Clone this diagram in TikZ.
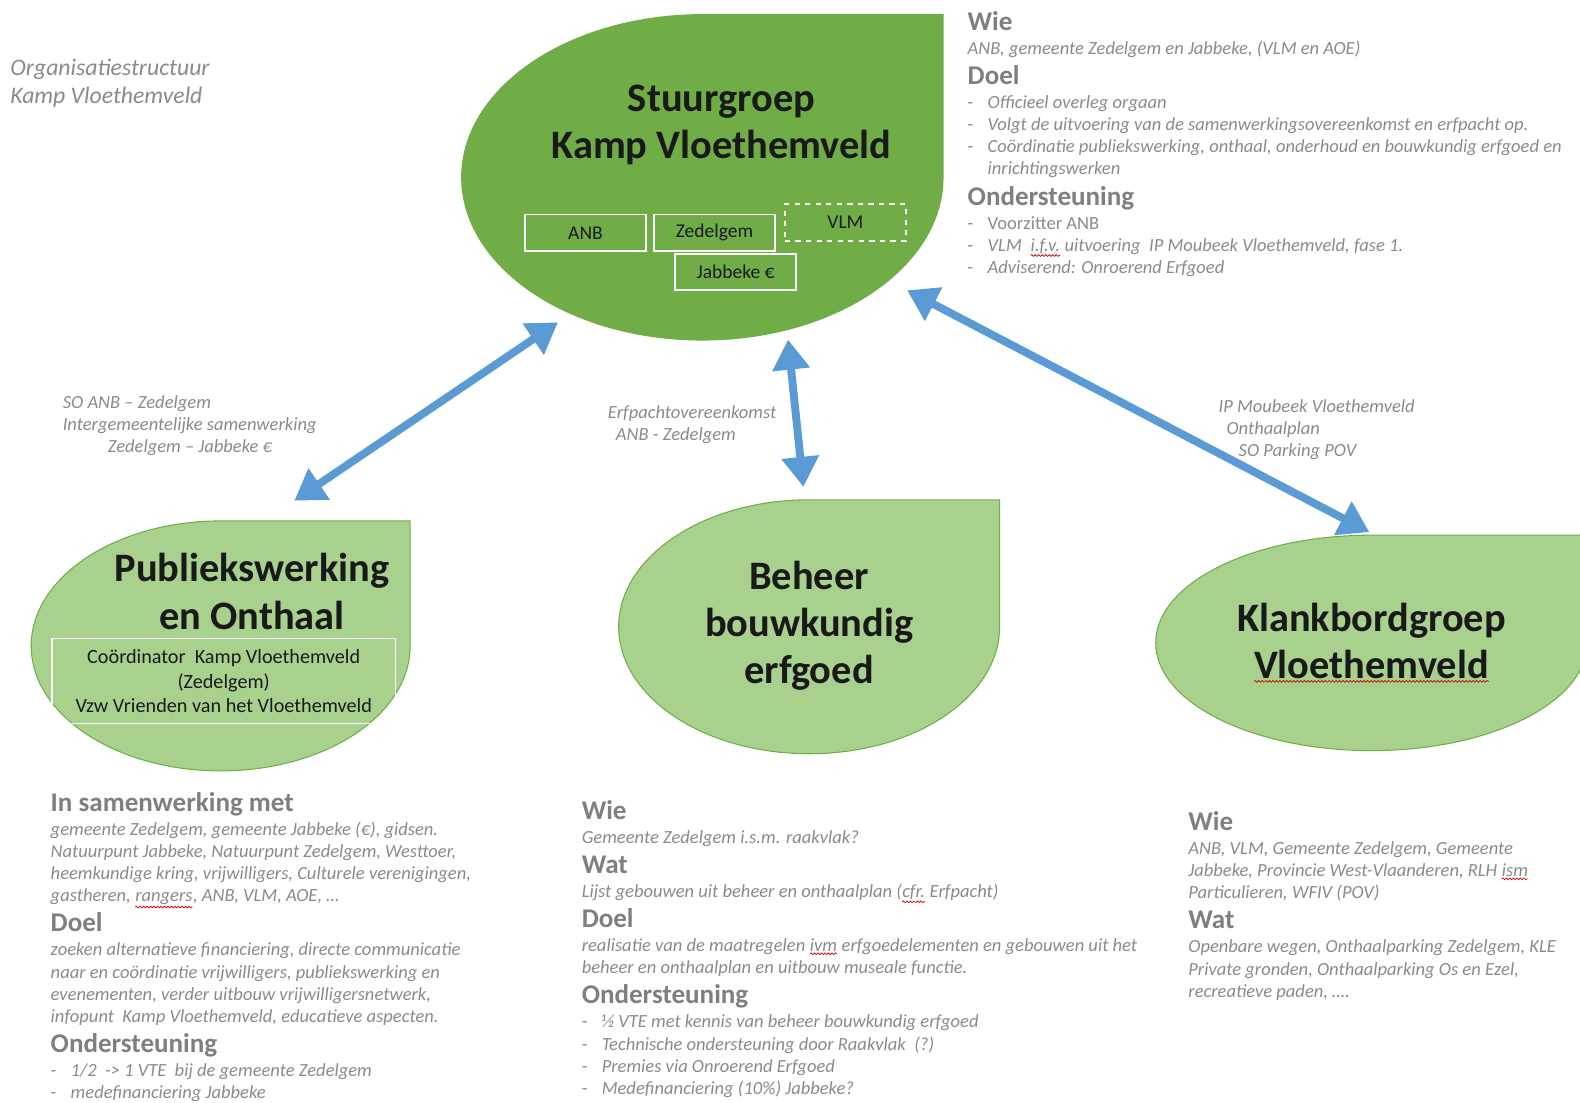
\documentclass[tikz,border=0pt]{standalone}
\usepackage{fontspec}
\setmainfont{Carlito}
\usepackage{tikz}
\usetikzlibrary{arrows.meta,shapes.geometric,decorations.pathmorphing}
\definecolor{leafdark}{HTML}{70AD47}
\definecolor{leaflight}{HTML}{A9D18E}
\definecolor{pijl}{HTML}{5B9BD5}
\definecolor{grijs}{HTML}{7F7F7F}
\definecolor{grijstekst}{HTML}{8A8A8A}
\newcommand{\kop}[1]{{\fontsize{15.4}{18}\selectfont\bfseries\upshape\color{grijs}#1}}
\newcommand{\streep}{\makebox[0.4cm][l]{\upshape -}}
\newcommand{\bloktekst}{\fontsize{10.55}{12.6}\selectfont\itshape\lineskiplimit=-20pt\relax}
\newcommand{\fout}[1]{\tikz[baseline=(w.base)]{\node[inner sep=0pt,outer sep=0pt] (w) {#1};
  \draw[foutlijn] ([yshift=-1.2pt]w.south west) -- ([yshift=-1.2pt]w.south east);}}
\tikzset{
  leafnode/.style={ellipse,inner sep=0pt,outer sep=0pt},
  bladA/.style={fill=leafdark},
  bladB/.style={fill=leaflight,draw=leafdark,line width=0.6pt},
  titel/.style={align=center,font=\fontsize{23}{27}\selectfont\bfseries,text=black!90},
  lid/.style={draw=white,line width=1.1pt,minimum width=2.42cm,minimum height=0.73cm,font=\fontsize{11.1}{13}\selectfont,text=black!90},
  blok/.style={anchor=north west,align=left,inner sep=0pt,text=grijstekst,font=\bloktekst},
  pijltekst/.style={anchor=north west,align=left,inner sep=0pt,text=grijstekst,font=\bloktekst},
  pijlA/.style={{Triangle[length=0.6cm,width=0.72cm]}-{Triangle[length=0.6cm,width=0.72cm]},line width=4.5pt,draw=pijl},
  foutlijn/.style={draw=red!80!black,line width=0.4pt,decorate,decoration={snake,amplitude=0.5pt,segment length=2pt}}
}
\begin{document}
\begin{tikzpicture}[x=0.020153cm,y=-0.020153cm]
  \useasboundingbox (0,0) rectangle (1568,1094);
  % de vier bladeren
  \node[leafnode,minimum width=9.65cm,minimum height=6.53cm] (stuur) at (697,176) {};
  \node[leafnode,minimum width=7.58cm,minimum height=5.0cm] (publiek) at (219,641) {};
  \node[leafnode,minimum width=7.62cm,minimum height=5.08cm] (beheer) at (803,622) {};
  \node[leafnode,minimum width=8.63cm,minimum height=4.31cm] (klank) at (1361,638) {};
  \fill[bladA] (stuur.north -| stuur.east) -- (stuur.east) arc[start angle=0,end angle=-270,x radius=4.825cm,y radius=3.265cm] -- cycle;
  \draw[bladB] (publiek.north -| publiek.east) -- (publiek.east) arc[start angle=0,end angle=-270,x radius=3.79cm,y radius=2.5cm] -- cycle;
  \draw[bladB] (beheer.north -| beheer.east) -- (beheer.east) arc[start angle=0,end angle=-270,x radius=3.81cm,y radius=2.54cm] -- cycle;
  \draw[bladB] (klank.north -| klank.east) -- (klank.east) arc[start angle=0,end angle=-270,x radius=4.315cm,y radius=2.155cm] -- cycle;

  \node[titel] (stuurT) at (716,124) {Stuurgroep\\Kamp Vloethemveld};
  \node[titel] (publiekT) at (250,587) {Publiekswerking\\en Onthaal};
  \node[titel] (beheerT) at (803,621) {Beheer\\bouwkundig\\erfgoed};
  \node[titel] (klankT) at (1361,638) {Klankbordgroep\\\fout{Vloethemveld}};

  \node[lid] (anb) at (581,231) {ANB};
  \node[lid] (zedelgem) at (709,231) {Zedelgem};
  \node[lid,dashed] (vlm) at (839,221) {VLM};
  \node[lid] (jabbeke) at (730,270) {Jabbeke €};
  \node[lid,line width=0.6pt,minimum width=6.87cm,minimum height=1.69cm,align=center,font=\fontsize{11.5}{13.8}\selectfont] (coord) at (222,676)
     {Coördinator \ Kamp Vloethemveld\\(Zedelgem)\\Vzw Vrienden van het Vloethemveld};

  \node[anchor=north west,inner sep=0pt,align=left,font=\fontsize{13.5}{16}\selectfont\itshape,text=grijstekst] (kop) at (10,58)
     {Organisatiestructuur\\Kamp Vloethemveld};

  % tekstblokken
  \node[blok] (stuurInfo) at (960,11) {\kop{Wie}\\[1.05pt]
    ANB, gemeente Zedelgem en Jabbeke, (VLM en AOE)\\[4.55pt]
    \kop{Doel}\\[1.05pt]
    \streep Officieel overleg orgaan\\
    \streep Volgt de uitvoering van de samenwerkingsovereenkomst en erfpacht op.\\
    \streep Coördinatie publiekswerking, onthaal, onderhoud en bouwkundig erfgoed en\\
    \hspace*{0.4cm}inrichtingswerken\\[4.55pt]
    \kop{Ondersteuning}\\[1.05pt]
    \streep {\upshape Voorzitter ANB}\\
    \streep VLM \ \fout{i.f.v.} uitvoering \ IP Moubeek Vloethemveld, fase 1.\\
    \streep Adviserend: Onroerend Erfgoed};
  \node[blok] (publiekInfo) at (50,786) {\kop{In samenwerking met}\\[1.05pt]
    gemeente Zedelgem, gemeente Jabbeke (€), gidsen.\\
    Natuurpunt Jabbeke, Natuurpunt Zedelgem, Westtoer,\\
    heemkundige kring, vrijwilligers, Culturele verenigingen,\\
    gastheren, \fout{rangers}, ANB, VLM, AOE, …\\[4.55pt]
    \kop{Doel}\\[1.05pt]
    zoeken alternatieve financiering, directe communicatie\\
    naar en coördinatie vrijwilligers, publiekswerking en\\
    evenementen, verder uitbouw vrijwilligersnetwerk,\\
    infopunt \ Kamp Vloethemveld, educatieve aspecten.\\[4.55pt]
    \kop{Ondersteuning}\\[1.05pt]
    \streep 1/2 \ -> 1 VTE \ bij de gemeente Zedelgem\\
    \streep medefinanciering Jabbeke};
  \node[blok] (beheerInfo) at (577,794) {\kop{Wie}\\[1.05pt]
    Gemeente Zedelgem i.s.m. raakvlak?\\[4.55pt]
    \kop{Wat}\\[1.05pt]
    Lijst gebouwen uit beheer en onthaalplan (\fout{cfr.} Erfpacht)\\[4.55pt]
    \kop{Doel}\\[1.05pt]
    realisatie van de maatregelen \fout{ivm} erfgoedelementen en gebouwen uit het\\
    beheer en onthaalplan en uitbouw museale functie.\\[4.55pt]
    \kop{Ondersteuning}\\[1.05pt]
    \streep ½ VTE met kennis van beheer bouwkundig erfgoed\\
    \streep Technische ondersteuning door Raakvlak \ (?)\\
    \streep Premies via Onroerend Erfgoed\\
    \streep Medefinanciering (10\%) Jabbeke?};
  \node[blok] (klankInfo) at (1179,805) {\kop{Wie}\\[1.05pt]
    ANB, VLM, Gemeente Zedelgem, Gemeente\\
    Jabbeke, Provincie West-Vlaanderen, RLH \fout{ism}\\
    Particulieren, WFIV (POV)\\[4.55pt]
    \kop{Wat}\\[1.05pt]
    Openbare wegen, Onthaalparking Zedelgem, KLE\\
    Private gronden, Onthaalparking Os en Ezel,\\
    recreatieve paden, ….};

  % pijlen met hun teksten
  \node[pijltekst] (soTekst) at (62,392) {SO ANB – Zedelgem\\Intergemeentelijke samenwerking\\\hspace*{0.9cm}Zedelgem – Jabbeke €};
  \node[pijltekst] (erfTekst) at (603,402) {Erfpachtovereenkomst\\\hspace*{0.16cm}ANB - Zedelgem};
  \node[pijltekst] (ipTekst) at (1209,396) {IP Moubeek Vloethemveld\\\hspace*{0.16cm}Onthaalplan\\\hspace*{0.4cm}SO Parking POV};
  \draw[pijlA,shorten <=0.3cm,shorten >=0.82cm] (stuur.226) -- (publiek.72);
  \draw[pijlA,shorten <=0.19cm,shorten >=0.26cm] (stuur.299) -- (beheer.92);
  \draw[pijlA,shorten <=0.41cm,shorten >=0.13cm] (stuur.331) -- (klank.88);
\end{tikzpicture}
\end{document}
